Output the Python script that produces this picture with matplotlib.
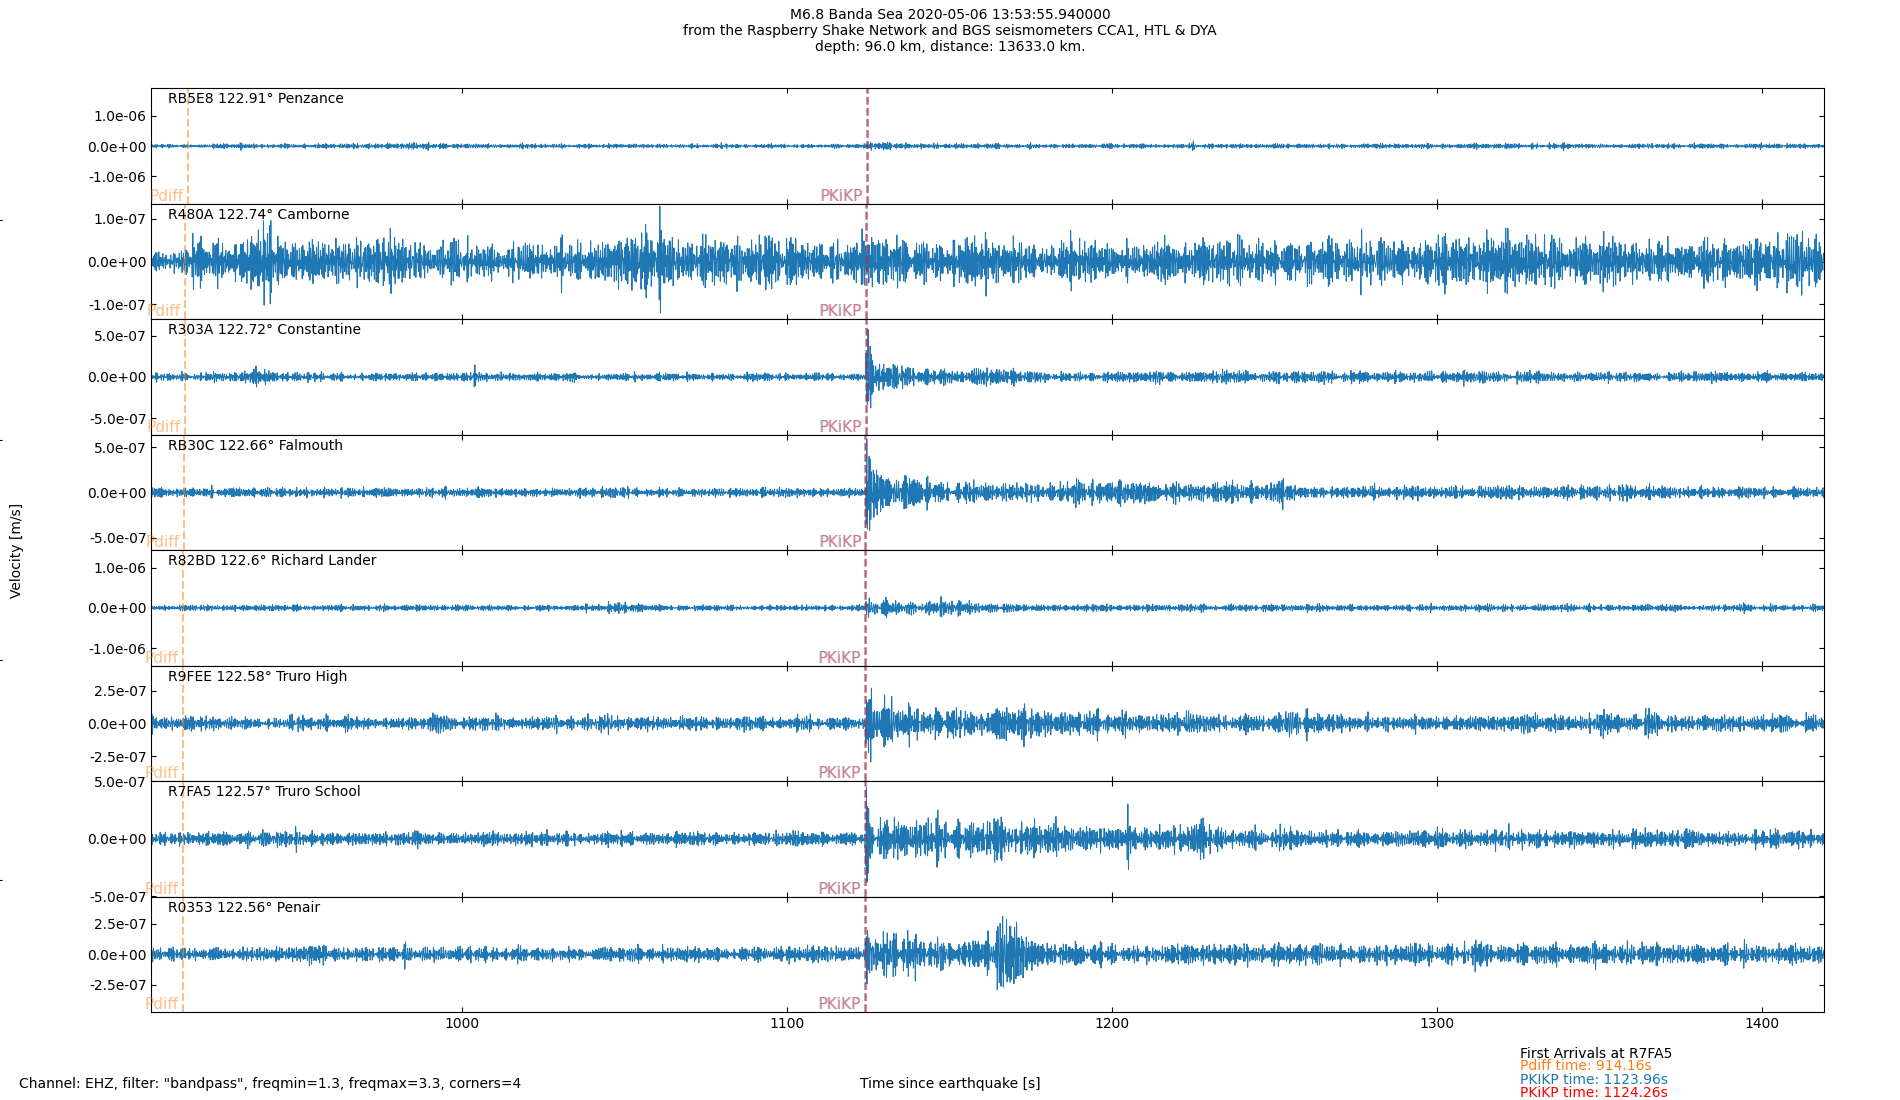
import numpy as np
import matplotlib
matplotlib.use('Agg')
import matplotlib.pyplot as plt
from matplotlib.ticker import FormatStrFormatter

# Stations, top to bottom
stations = ['RB5E8', 'R480A', 'R303A', 'RB30C', 'R82BD', 'R9FEE', 'R7FA5', 'R0353']
distances = [122.91, 122.74, 122.72, 122.66, 122.6, 122.58, 122.57, 122.56]
places = ['Penzance', 'Camborne', 'Constantine', 'Falmouth', 'Richard Lander',
          'Truro High', 'Truro School', 'Penair']

# Arrival times [s] per station
pdiff_times = [915.67, 914.92, 914.83, 914.56, 914.29, 914.20, 914.16, 914.12]
pkikp_times = [1124.61, 1124.28, 1124.25, 1124.13, 1124.02, 1123.98, 1123.96, 1123.94]
pkikp2_times = [1124.91, 1124.58, 1124.55, 1124.43, 1124.32, 1124.28, 1124.26, 1124.24]

# Axis half-range and tick value per panel [m/s]
y_max = [1.9e-6, 1.35e-7, 7.0e-7, 6.4e-7, 1.43e-6, 4.4e-7, 5.02e-7, 4.7e-7]
y_tick = [1.0e-6, 1.0e-7, 5.0e-7, 5.0e-7, 1.0e-6, 2.5e-7, 5.0e-7, 2.5e-7]

# Trace envelope: time [s] and rms level (fraction of y_max)
env_t = [
    [905, 960, 995, 1005, 1060, 1124.6, 1125.2, 1127, 1135, 1150, 1170, 1250, 1340, 1419],
    [905, 913, 918, 930, 940, 948, 965, 978, 990, 1010, 1030, 1045, 1058, 1068, 1080, 1094,
     1105, 1120, 1128, 1140, 1158, 1170, 1200, 1220, 1250, 1275, 1300, 1330, 1345, 1370,
     1390, 1405, 1419],
    [905, 930, 937, 944, 960, 1124.2, 1124.6, 1125.5, 1127, 1132, 1138, 1148, 1156, 1162,
     1168, 1200, 1330, 1340, 1419],
    [905, 1040, 1048, 1056, 1124.1, 1124.5, 1125.5, 1127, 1135, 1144, 1150, 1180, 1206,
     1215, 1244, 1252, 1260, 1374, 1380, 1419],
    [905, 1040, 1049, 1058, 1124, 1124.4, 1125.5, 1128, 1140, 1154, 1162, 1175, 1419],
    [905, 945, 950, 955, 988, 993.5, 999, 1040, 1046, 1052, 1102, 1107.6, 1113, 1123.9,
     1124.3, 1125.5, 1128, 1135, 1145, 1160, 1168, 1176, 1200, 1250, 1256, 1262, 1300,
     1345, 1351, 1357, 1364, 1370, 1419],
    [905, 1123.9, 1124.3, 1125.5, 1128, 1135, 1175, 1200, 1222, 1228, 1234, 1260, 1419],
    [905, 1123.9, 1124.3, 1126, 1131, 1138, 1142, 1158, 1163, 1166, 1169, 1173, 1178, 1200,
     1290, 1419],
]
env_a = [
    [0.015, 0.016, 0.024, 0.016, 0.016, 0.016, 0.06, 0.035, 0.03, 0.022, 0.017, 0.017, 0.02, 0.016],
    [0.08, 0.09, 0.16, 0.17, 0.25, 0.17, 0.16, 0.2, 0.15, 0.14, 0.15, 0.16, 0.22, 0.18, 0.15,
     0.22, 0.16, 0.15, 0.19, 0.16, 0.2, 0.15, 0.14, 0.17, 0.15, 0.17, 0.19, 0.2, 0.16, 0.15,
     0.17, 0.19, 0.22],
    [0.03, 0.03, 0.07, 0.035, 0.03, 0.03, 0.5, 0.25, 0.15, 0.12, 0.08, 0.06, 0.05, 0.08,
     0.05, 0.04, 0.05, 0.035, 0.035],
    [0.035, 0.035, 0.045, 0.035, 0.035, 0.45, 0.22, 0.15, 0.12, 0.11, 0.08, 0.07, 0.09,
     0.07, 0.085, 0.085, 0.045, 0.055, 0.04, 0.04],
    [0.022, 0.022, 0.045, 0.022, 0.022, 0.12, 0.07, 0.055, 0.05, 0.055, 0.04, 0.027, 0.025],
    [0.05, 0.05, 0.08, 0.05, 0.05, 0.09, 0.05, 0.05, 0.07, 0.05, 0.05, 0.07, 0.05, 0.05,
     0.45, 0.25, 0.17, 0.15, 0.11, 0.11, 0.16, 0.1, 0.08, 0.07, 0.1, 0.065, 0.06,
     0.06, 0.1, 0.06, 0.1, 0.06, 0.06],
    [0.05, 0.05, 0.42, 0.22, 0.15, 0.13, 0.12, 0.08, 0.08, 0.13, 0.08, 0.065, 0.06],
    [0.055, 0.055, 0.3, 0.2, 0.17, 0.15, 0.1, 0.1, 0.2, 0.38, 0.34, 0.18, 0.1, 0.075,
     0.08, 0.07],
]

t_start, t_end = 904.55, 1419.1
fs = 100.0  # samples per second


def band_signal(t, seed):
    # deterministic band-limited (1.3-3.3 Hz) carrier with unit rms,
    # irregularly spaced frequencies so it has no repeating beats
    k = np.arange(1, 301)
    a = 0.7548776662 + seed * 0.1180339887
    b = 0.5698402910 + seed * 0.2360679775
    freqs = 1.3 + 2.0 * ((k * k * a + k * b) % 1)
    phases = 2 * np.pi * ((k * k * (0.3247179572 + seed * 0.0710678) + k * 0.1415926) % 1)
    s = np.zeros_like(t)
    for f, p in zip(freqs, phases):
        s += np.sin(2 * np.pi * f * t + p)
    return s / np.sqrt(len(k) / 2)


t = np.arange(t_start, t_end, 1 / fs)

fig, axes = plt.subplots(len(stations), 1, figsize=(19, 11), dpi=100, sharex=True)
fig.subplots_adjust(left=0.0797, right=0.96, top=0.9197, bottom=0.08, hspace=0)

for i, ax in enumerate(axes):
    env = np.interp(t, env_t[i], env_a[i]) * y_max[i]
    trace = env * band_signal(t, i)
    ax.plot(t, trace, color='C0', lw=0.7)

    ax.set_xlim(t_start, t_end)
    ax.set_ylim(-y_max[i], y_max[i])
    ax.set_yticks([-y_tick[i], 0, y_tick[i]])
    ax.yaxis.set_major_formatter(FormatStrFormatter('%.1e'))
    ax.tick_params(direction='in', top=True, right=True)

    ax.axvline(pdiff_times[i], color='C1', ls='--', lw=1.5, alpha=0.5)
    ax.axvline(pkikp_times[i], color='C0', ls='--', lw=1.5, alpha=0.5)
    ax.axvline(pkikp2_times[i], color='r', ls='--', lw=1.5, alpha=0.5)
    for name, tt, col, al in [('Pdiff', pdiff_times[i], 'C1', 0.5),
                              ('PKIKP', pkikp_times[i], 'C0', 0.4),
                              ('PKiKP', pkikp2_times[i], 'r', 0.4)]:
        ax.annotate(name, (tt, -y_max[i]), xytext=(-3, 0), textcoords='offset points',
                    color=col, alpha=al, fontsize=11, ha='right', va='bottom')

    ax.text(0.01, 0.965, f'{stations[i]} {distances[i]}° {places[i]}',
            transform=ax.transAxes, va='top')

# leftover ticks of the frameless label axes at the figure edge
big = fig.add_axes([0.001, 0, 0.5, 1], frameon=False)
big.set_xticks([])
big.set_yticks([0.2, 0.4, 0.6, 0.8])
big.tick_params(labelleft=False)
big.set_zorder(-1)

fig.suptitle('M6.8 Banda Sea 2020-05-06 13:53:55.940000\n'
             'from the Raspberry Shake Network and BGS seismometers CCA1, HTL & DYA\n'
             'depth: 96.0 km, distance: 13633.0 km.', y=0.993, fontsize=10)
fig.text(0.009, 0.5, 'Velocity [m/s]', rotation=90, ha='center', va='center')
fig.text(0.5, 0.0147, 'Time since earthquake [s]', ha='center', va='center')
fig.text(0.0102, 0.0147, 'Channel: EHZ, filter: "bandpass", freqmin=1.3, freqmax=3.3, corners=4',
         va='center')

fig.text(0.80, 0.0420, 'First Arrivals at R7FA5', va='center')
fig.text(0.80, 0.0311, 'Pdiff time: 914.16s', color='C1', va='center')
fig.text(0.80, 0.0184, 'PKIKP time: 1123.96s', color='C0', va='center')
fig.text(0.80, 0.0063, 'PKiKP time: 1124.26s', color='r', va='center')

plt.savefig('out.png')
